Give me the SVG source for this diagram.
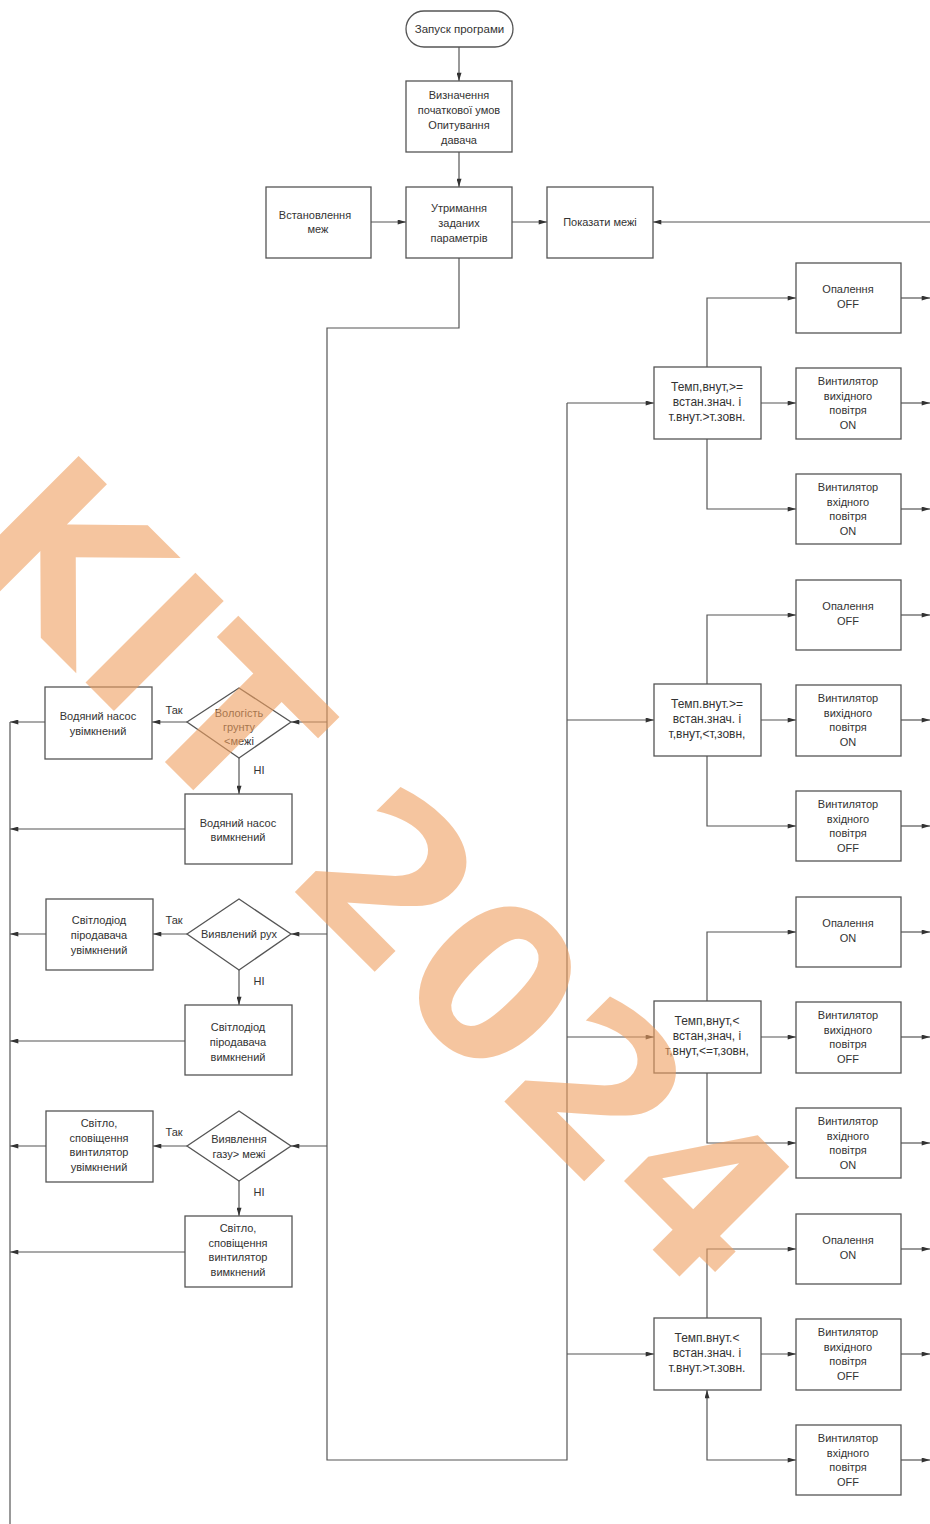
<svg xmlns="http://www.w3.org/2000/svg" width="930" height="1524" viewBox="0 0 930 1524">
<defs>
<marker id="ah" viewBox="0 0 10 6" refX="10" refY="3" markerWidth="9" markerHeight="5" markerUnits="userSpaceOnUse" orient="auto-start-reverse">
<path d="M0,0 L10,3 L0,6 z" fill="#333"/>
</marker>
<style>
.b{fill:none;stroke:#555;stroke-width:1.3}
.c{fill:none;stroke:#555;stroke-width:1.2}
.a{marker-end:url(#ah)}
text{font-family:"Liberation Sans",Arial,sans-serif;font-size:11px;fill:#333;text-anchor:middle}
.lb{font-size:11.5px}
.cd text{font-size:12px}
.wm{font-family:"DejaVu Sans",sans-serif;font-weight:bold;font-size:213px;fill:#F0A060;opacity:0.6;text-anchor:start}
</style>
</defs>
<rect width="930" height="1524" fill="#fff"/>

<g id="connectors">
<path class="c a" d="M459,47 V81"/>
<path class="c a" d="M459,152 V187"/>
<path class="c a" d="M371,222 H406"/>
<path class="c a" d="M512,222 H547"/>
<path class="c a" d="M930,222 H653"/>
<path class="c" d="M459,258 V328 H327 V1460 H567 V403"/>
<path class="c a" d="M327,722 H291"/>
<path class="c a" d="M327,934 H291"/>
<path class="c a" d="M327,1146 H291"/>
<path class="c a" d="M187,722 H152"/>
<path class="c a" d="M187,934 H153"/>
<path class="c a" d="M187,1146 H153"/>
<path class="c a" d="M239,758 V794"/>
<path class="c a" d="M239,970 V1005"/>
<path class="c a" d="M239,1181 V1216"/>
<path class="c a" d="M45,722 H10"/>
<path class="c a" d="M185,829 H10"/>
<path class="c a" d="M46,934 H10"/>
<path class="c a" d="M185,1041 H10"/>
<path class="c a" d="M46,1146 H10"/>
<path class="c a" d="M185,1252 H10"/>
<path class="c" d="M10,722 V1524"/>
<!-- group 1 -->
<path class="c a" d="M567,403 H654"/>
<path class="c a" d="M707,367 V298 H796"/>
<path class="c a" d="M761,403 H796"/>
<path class="c a" d="M707,439 V509 H796"/>
<path class="c a" d="M901,298 H930"/>
<path class="c a" d="M901,403 H930"/>
<path class="c a" d="M901,509 H930"/>
<!-- group 2 -->
<path class="c a" d="M567,720 H654"/>
<path class="c a" d="M707,684 V615 H796"/>
<path class="c a" d="M761,720 H796"/>
<path class="c a" d="M707,756 V826 H796"/>
<path class="c a" d="M901,615 H930"/>
<path class="c a" d="M901,720 H930"/>
<path class="c a" d="M901,826 H930"/>
<!-- group 3 -->
<path class="c a" d="M567,1037 H654"/>
<path class="c a" d="M707,1001 V932 H796"/>
<path class="c a" d="M761,1037 H796"/>
<path class="c a" d="M707,1073 V1143 H796"/>
<path class="c a" d="M901,932 H930"/>
<path class="c a" d="M901,1037 H930"/>
<path class="c a" d="M901,1143 H930"/>
<!-- group 4 -->
<path class="c a" d="M567,1354 H654"/>
<path class="c a" d="M707,1318 V1249 H796"/>
<path class="c a" d="M761,1354 H796"/>
<path class="c a" d="M707,1390 V1460 H796" marker-start="url(#ah)"/>
<path class="c a" d="M901,1249 H930"/>
<path class="c a" d="M901,1354 H930"/>
<path class="c a" d="M901,1460 H930"/>
</g>

<g id="start"><rect class="b" x="406" y="11" width="107" height="36" rx="18"/><text x="459.5" y="33" class="lb">Запуск програми</text></g>
<g id="init"><rect class="b" x="406" y="81" width="106" height="71"/><text x="459" y="99">Визначення</text><text x="459" y="114">початкової умов</text><text x="459" y="129">Опитування</text><text x="459" y="144">давача</text></g>
<g id="hold"><rect class="b" x="406" y="187" width="106" height="71"/><text x="459" y="212">Утримання</text><text x="459" y="227">заданих</text><text x="459" y="242">параметрів</text></g>
<g id="setlim"><rect class="b" x="266" y="187" width="105" height="71"/><text x="315" y="219">Встановлення</text><text x="318" y="233">меж</text></g>
<g id="showlim"><rect class="b" x="547" y="187" width="106" height="71"/><text x="600" y="226">Показати межі</text></g>

<!-- left side -->
<g id="soil"><polygon class="b" points="187,722 239,688 291,722 239,758"/><text x="239" y="717">Вологість</text><text x="239" y="731">грунту</text><text x="239" y="745">&lt;межі</text></g>
<g id="pumpon"><rect class="b" x="45" y="687" width="107" height="72"/><text x="98" y="720">Водяний насос</text><text x="98" y="735">увімкнений</text></g>
<g id="pumpoff"><rect class="b" x="185" y="794" width="107" height="70"/><text x="238" y="827">Водяний насос</text><text x="238" y="841">вимкнений</text></g>
<g id="motion"><polygon class="b" points="187,934 239,899 291,934 239,970"/><text x="239" y="938">Виявлений рух</text></g>
<g id="ledon"><rect class="b" x="46" y="899" width="107" height="71"/><text x="99" y="924">Світлодіод</text><text x="99" y="939">піродавача</text><text x="99" y="954">увімкнений</text></g>
<g id="ledoff"><rect class="b" x="185" y="1005" width="107" height="70"/><text x="238" y="1031">Світлодіод</text><text x="238" y="1046">піродавача</text><text x="238" y="1061">вимкнений</text></g>
<g id="gas"><polygon class="b" points="187,1146 239,1111 291,1146 239,1181"/><text x="239" y="1143">Виявлення</text><text x="239" y="1158">газу&gt; межі</text></g>
<g id="alarmon"><rect class="b" x="46" y="1111" width="107" height="71"/><text x="99" y="1127">Світло,</text><text x="99" y="1142">сповіщення</text><text x="99" y="1156">винтилятор</text><text x="99" y="1171">увімкнений</text></g>
<g id="alarmoff"><rect class="b" x="185" y="1216" width="107" height="71"/><text x="238" y="1232">Світло,</text><text x="238" y="1247">сповіщення</text><text x="238" y="1261">винтилятор</text><text x="238" y="1276">вимкнений</text></g>
<g id="labels"><text x="174" y="714">Так</text><text x="174" y="924">Так</text><text x="174" y="1136">Так</text><text x="259" y="774">НІ</text><text x="259" y="985">НІ</text><text x="259" y="1196">НІ</text></g>

<!-- group 1 -->
<g id="cond1" class="cd"><rect class="b" x="654" y="367" width="107" height="72"/><text x="707" y="391">Темп,внут,&gt;=</text><text x="707" y="406">встан.знач. і</text><text x="707" y="421">т.внут.&gt;т.зовн.</text></g>
<g id="g1a"><rect class="b" x="796" y="263" width="105" height="70"/><text x="848" y="293">Опалення</text><text x="848" y="308">OFF</text></g>
<g id="g1b"><rect class="b" x="796" y="368" width="105" height="71"/><text x="848" y="385">Винтилятор</text><text x="848" y="400">вихідного</text><text x="848" y="414">повітря</text><text x="848" y="429">ON</text></g>
<g id="g1c"><rect class="b" x="796" y="474" width="105" height="70"/><text x="848" y="491">Винтилятор</text><text x="848" y="506">вхідного</text><text x="848" y="520">повітря</text><text x="848" y="535">ON</text></g>
<!-- group 2 -->
<g id="cond2" class="cd"><rect class="b" x="654" y="684" width="107" height="72"/><text x="707" y="708">Темп.внут.&gt;=</text><text x="707" y="723">встан.знач. і</text><text x="707" y="738">т,внут,&lt;т,зовн,</text></g>
<g id="g2a"><rect class="b" x="796" y="580" width="105" height="70"/><text x="848" y="610">Опалення</text><text x="848" y="625">OFF</text></g>
<g id="g2b"><rect class="b" x="796" y="685" width="105" height="71"/><text x="848" y="702">Винтилятор</text><text x="848" y="717">вихідного</text><text x="848" y="731">повітря</text><text x="848" y="746">ON</text></g>
<g id="g2c"><rect class="b" x="796" y="791" width="105" height="70"/><text x="848" y="808">Винтилятор</text><text x="848" y="823">вхідного</text><text x="848" y="837">повітря</text><text x="848" y="852">OFF</text></g>
<!-- group 3 -->
<g id="cond3" class="cd"><rect class="b" x="654" y="1001" width="107" height="72"/><text x="707" y="1025">Темп,внут,&lt;</text><text x="707" y="1040">встан,знач, і</text><text x="707" y="1055">т,внут,&lt;=т,зовн,</text></g>
<g id="g3a"><rect class="b" x="796" y="897" width="105" height="70"/><text x="848" y="927">Опалення</text><text x="848" y="942">ON</text></g>
<g id="g3b"><rect class="b" x="796" y="1002" width="105" height="71"/><text x="848" y="1019">Винтилятор</text><text x="848" y="1034">вихідного</text><text x="848" y="1048">повітря</text><text x="848" y="1063">OFF</text></g>
<g id="g3c"><rect class="b" x="796" y="1108" width="105" height="70"/><text x="848" y="1125">Винтилятор</text><text x="848" y="1140">вхідного</text><text x="848" y="1154">повітря</text><text x="848" y="1169">ON</text></g>
<!-- group 4 -->
<g id="cond4" class="cd"><rect class="b" x="654" y="1318" width="107" height="72"/><text x="707" y="1342">Темп.внут.&lt;</text><text x="707" y="1357">встан.знач. і</text><text x="707" y="1372">т.внут.&gt;т.зовн.</text></g>
<g id="g4a"><rect class="b" x="796" y="1214" width="105" height="70"/><text x="848" y="1244">Опалення</text><text x="848" y="1259">ON</text></g>
<g id="g4b"><rect class="b" x="796" y="1319" width="105" height="71"/><text x="848" y="1336">Винтилятор</text><text x="848" y="1351">вихідного</text><text x="848" y="1365">повітря</text><text x="848" y="1380">OFF</text></g>
<g id="g4c"><rect class="b" x="796" y="1425" width="105" height="70"/><text x="848" y="1442">Винтилятор</text><text x="848" y="1457">вхідного</text><text x="848" y="1471">повітря</text><text x="848" y="1486">OFF</text></g>

<g id="watermark"><text class="wm" transform="translate(-45,552) rotate(45)">KIT 2024</text></g>
</svg>
